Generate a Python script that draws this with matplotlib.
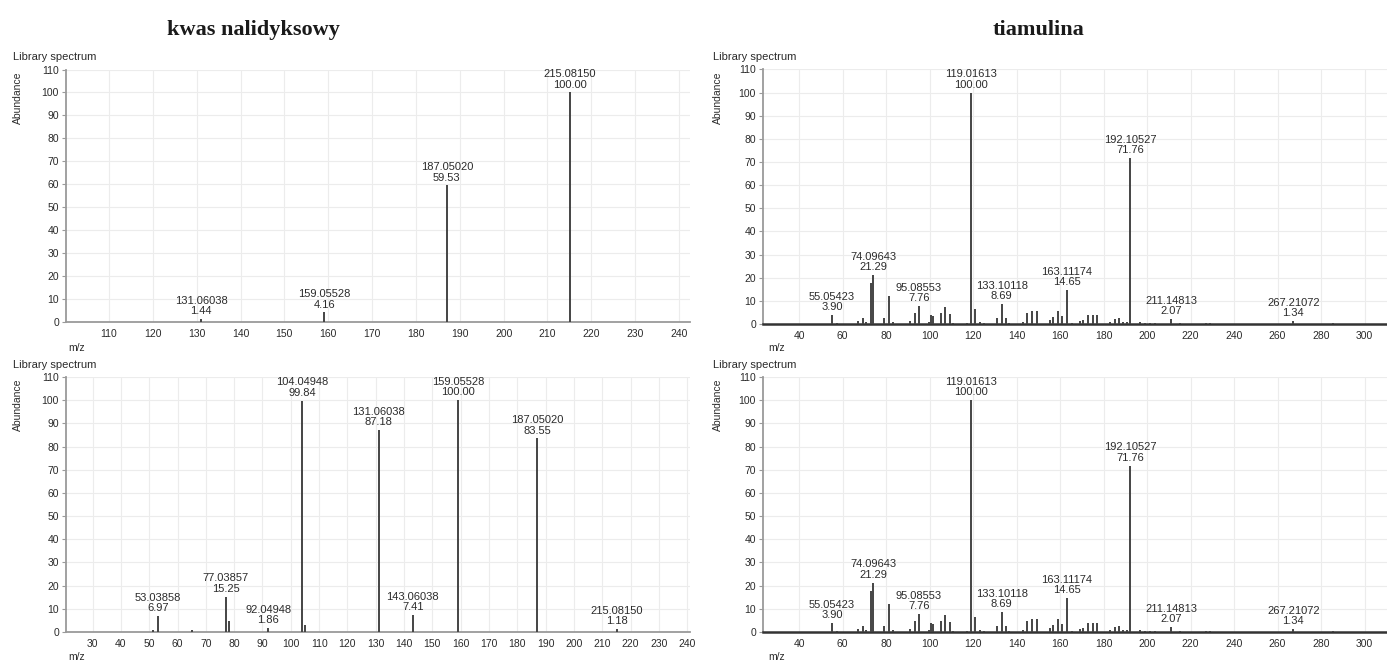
"""Library MS/MS spectra for nalidixic acid and tiamulin, two spectra per compound."""

import matplotlib.pyplot as plt

plt.rcParams["font.family"] = ["Liberation Sans", "DejaVu Sans"]

# kwas nalidyksowy, upper spectrum
NAL_TOP_MZ = [131.06038, 159.05528, 187.05020, 215.08150]
NAL_TOP_INT = [1.44, 4.16, 59.53, 100.00]
NAL_TOP_LABELLED = [True, True, True, True]

# kwas nalidyksowy, lower spectrum
NAL_BOT_MZ = [51.2, 53.03858, 65.0, 77.03857, 78.2, 92.04948, 104.04948, 105.05,
              131.06038, 143.06038, 159.05528, 187.05020, 215.08150]
NAL_BOT_INT = [0.9, 6.97, 0.9, 15.25, 4.6, 1.86, 99.84, 2.9,
               87.18, 7.41, 100.00, 83.55, 1.18]
NAL_BOT_LABELLED = [False, True, False, True, False, True, True, False,
                    True, True, True, True, True]

# tiamulina (both spectra identical)
TIA_MZ = [55.05423, 57.2, 67.2, 69.2, 70.6, 73.2, 74.09643, 79.0, 81.3, 83.0,
          91.0, 93.3, 95.08553, 99.5, 100.6, 101.6, 105.1, 107.1, 109.4, 110.9,
          117.0, 119.01613, 120.8, 123.1, 125.0, 131.1, 133.10118, 135.1, 136.6,
          143.0, 144.9, 147.2, 149.2, 155.3, 156.9, 159.2, 160.7, 163.11174,
          165.3, 169.1, 170.6, 172.9, 175.3, 177.1, 182.9, 185.2, 187.1, 189.0,
          190.9, 192.10527, 196.7, 199.0, 201.3, 203.6, 211.14813, 215.1, 227.0,
          228.9, 267.21072, 285.3]
TIA_INT = [3.90, 0.5, 1.4, 2.5, 0.8, 17.7, 21.29, 2.4, 12.1, 0.8,
           1.2, 4.6, 7.76, 1.0, 3.9, 3.6, 4.6, 7.3, 4.4, 0.6,
           0.6, 100.00, 6.4, 0.8, 0.6, 2.6, 8.69, 2.4, 0.6,
           1.0, 4.7, 5.5, 5.5, 1.8, 3.0, 5.6, 3.5, 14.65,
           0.5, 1.2, 1.8, 3.9, 4.0, 4.0, 0.8, 2.0, 2.8, 1.0,
           0.8, 71.76, 0.7, 0.5, 0.5, 0.5, 2.07, 0.5, 0.6,
           0.6, 1.34, 0.5]
TIA_LABELLED = [m in (55.05423, 74.09643, 95.08553, 119.01613, 133.10118,
                      163.11174, 192.10527, 211.14813, 267.21072) for m in TIA_MZ]

NAL_TOP_TICKS = list(range(110, 241, 10))
NAL_BOT_TICKS = list(range(30, 241, 10))
TIA_TICKS = list(range(40, 301, 20))
Y_TICKS = list(range(0, 111, 10))

TEXT_COLOR = "#2b2b2b"
PEAK_COLOR = "#444444"
AXIS_COLOR = "#9a9a9a"


def draw_spectrum(fig, rect, mz, inten, labelled, xlim, xticks, heavy_base=False):
    ax = fig.add_axes(rect)
    ax.vlines(mz, 0, inten, color=PEAK_COLOR, linewidth=1.4, zorder=3)
    for m, v, lab in zip(mz, inten, labelled):
        if lab:
            ax.annotate(f"{m:.5f}\n{v:.2f}", xy=(m, v), xytext=(0, 2),
                        textcoords="offset points", ha="center", va="bottom",
                        fontsize=8, color=TEXT_COLOR, linespacing=1.05)
    ax.set_xlim(*xlim)
    ax.set_ylim(0, 110)
    ax.set_xticks(xticks)
    ax.set_yticks(Y_TICKS)
    ax.grid(True, color="#ececec", linewidth=0.8)
    ax.set_axisbelow(True)
    for side in ("top", "right"):
        ax.spines[side].set_visible(False)
    ax.spines["left"].set_color(AXIS_COLOR)
    ax.spines["left"].set_linewidth(1.3)
    if heavy_base:
        ax.spines["bottom"].set_color("#333333")
        ax.spines["bottom"].set_linewidth(1.8)
    else:
        ax.spines["bottom"].set_color(AXIS_COLOR)
        ax.spines["bottom"].set_linewidth(1.3)
    ax.tick_params(axis="y", length=3, width=0.8, color=AXIS_COLOR,
                   labelsize=7.5, labelcolor=TEXT_COLOR, pad=2)
    ax.tick_params(axis="x", length=0, labelsize=7.5, labelcolor=TEXT_COLOR, pad=5)
    return ax


fig = plt.figure(figsize=(13.87, 6.62), dpi=100)
W, H = 1387.0, 662.0


def rect(x0, y_top, x1, y_bot):
    return [x0 / W, 1 - y_bot / H, (x1 - x0) / W, (y_bot - y_top) / H]


draw_spectrum(fig, rect(66, 69.5, 690, 322), NAL_TOP_MZ, NAL_TOP_INT,
              NAL_TOP_LABELLED, (100.2, 242.5), NAL_TOP_TICKS)
draw_spectrum(fig, rect(66, 377, 690, 632), NAL_BOT_MZ, NAL_BOT_INT,
              NAL_BOT_LABELLED, (20.6, 241), NAL_BOT_TICKS)
draw_spectrum(fig, rect(763, 69.5, 1387, 324), TIA_MZ, TIA_INT,
              TIA_LABELLED, (23.4, 310.3), TIA_TICKS, heavy_base=True)
draw_spectrum(fig, rect(763, 377, 1387, 632), TIA_MZ, TIA_INT,
              TIA_LABELLED, (23.4, 310.3), TIA_TICKS, heavy_base=True)

# panel decorations: header, y label and x label for each spectrum
for x_lib, x_ab, x_mz in ((13, 18, 77), (713, 718, 777)):
    for y_lib, y_ab, y_mz in ((56.5, 98, 348), (365, 405, 657)):
        fig.text(x_lib / W, 1 - y_lib / H, "Library spectrum", fontsize=8,
                 color=TEXT_COLOR, ha="left", va="center")
        fig.text(x_ab / W, 1 - y_ab / H, "Abundance", fontsize=7.5,
                 color=TEXT_COLOR, rotation=90, ha="center", va="center")
        fig.text(x_mz / W, 1 - y_mz / H, "m/z", fontsize=7.5,
                 color=TEXT_COLOR, ha="center", va="center")

fig.text(253 / W, 1 - 30 / H, "kwas nalidyksowy", fontsize=16, fontweight="bold",
         family="Liberation Serif", color="#1a1a1a", ha="center", va="center")
fig.text(1038 / W, 1 - 30 / H, "tiamulina", fontsize=16, fontweight="bold",
         family="Liberation Serif", color="#1a1a1a", ha="center", va="center")

fig.savefig("out.png", dpi=100)
